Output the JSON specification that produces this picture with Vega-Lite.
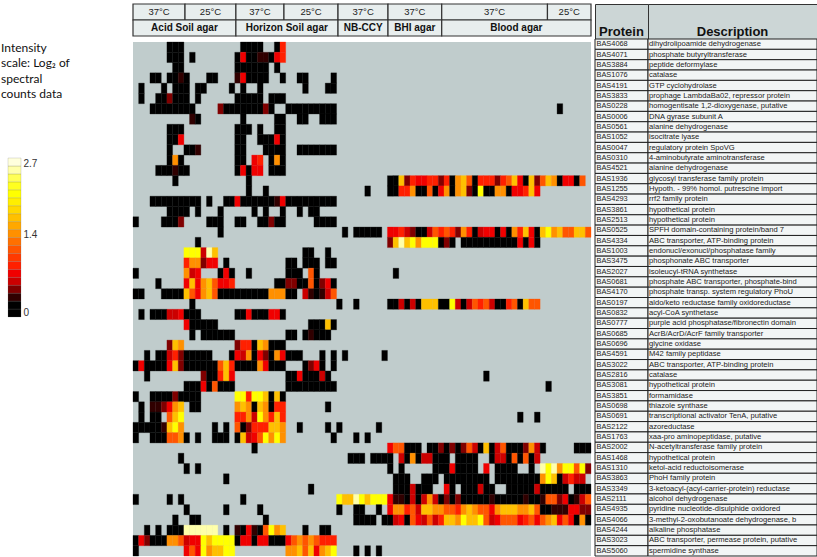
{"$schema":"https://vega.github.io/schema/vega-lite/v6.json","padding":{"left":0,"top":3,"right":0,"bottom":0},"background":"white","spacing":2,"config":{"view":{"stroke":null},"text":{"font":"Liberation Sans"}},
"datasets":{
"notes":[{"t":"Intensity"},{"t":"scale: Log₂ of"},{"t":"spectral"},{"t":"counts data"}],
"ramp":[{"lo":0,"hi":0.135,"v":0.07},{"lo":0.135,"hi":0.27,"v":0.2},{"lo":0.27,"hi":0.405,"v":0.34},{"lo":0.405,"hi":0.54,"v":0.47},{"lo":0.54,"hi":0.675,"v":0.61},{"lo":0.675,"hi":0.81,"v":0.74},{"lo":0.81,"hi":0.945,"v":0.88},{"lo":0.945,"hi":1.08,"v":1.01},{"lo":1.08,"hi":1.215,"v":1.15},{"lo":1.215,"hi":1.35,"v":1.28},{"lo":1.35,"hi":1.485,"v":1.42},{"lo":1.485,"hi":1.62,"v":1.55},{"lo":1.62,"hi":1.755,"v":1.69},{"lo":1.755,"hi":1.89,"v":1.82},{"lo":1.89,"hi":2.025,"v":1.96},{"lo":2.025,"hi":2.16,"v":2.09},{"lo":2.16,"hi":2.295,"v":2.23},{"lo":2.295,"hi":2.43,"v":2.36},{"lo":2.43,"hi":2.565,"v":2.5},{"lo":2.565,"hi":2.7,"v":2.63}],
"head":[{"tier":"temp","a":0,"b":9.2,"mid":4.6,"t":"37°C"},{"tier":"temp","a":9.2,"b":18.2,"mid":13.7,"t":"25°C"},{"tier":"temp","a":18.2,"b":26.7,"mid":22.45,"t":"37°C"},{"tier":"temp","a":26.7,"b":36.26,"mid":31.5,"t":"25°C"},{"tier":"temp","a":36.26,"b":45.1,"mid":40.7,"t":"37°C"},{"tier":"temp","a":45.1,"b":54.6,"mid":49.85,"t":"37°C"},{"tier":"temp","a":54.6,"b":73.3,"mid":63.95,"t":"37°C"},{"tier":"temp","a":73.3,"b":81,"mid":77.15,"t":"25°C"},{"tier":"medium","a":0,"b":18.2,"mid":9.1,"t":"Acid Soil agar"},{"tier":"medium","a":18.2,"b":36.26,"mid":27.2,"t":"Horizon Soil agar"},{"tier":"medium","a":36.26,"b":45.1,"mid":40.7,"t":"NB-CCY"},{"tier":"medium","a":45.1,"b":54.6,"mid":49.85,"t":"BHI agar"},{"tier":"medium","a":54.6,"b":81,"mid":67.8,"t":"Blood agar"}],
"table":[{"p":"BAS4068","d":"dihydrolipoamide dehydrogenase"},{"p":"BAS4071","d":"phosphate butyryltransferase"},{"p":"BAS3884","d":"peptide deformylase"},{"p":"BAS1076","d":"catalase"},{"p":"BAS4191","d":"GTP cyclohydrolase"},{"p":"BAS3833","d":"prophage LambdaBa02, repressor protein"},{"p":"BAS0228","d":"homogentisate 1,2-dioxygenase, putative"},{"p":"BAS0006","d":"DNA gyrase subunit A"},{"p":"BAS0561","d":"alanine dehydrogenase"},{"p":"BAS1052","d":"isocitrate lyase"},{"p":"BAS0047","d":"regulatory protein SpoVG"},{"p":"BAS0310","d":"4-aminobutyrate aminotransferase"},{"p":"BAS4521","d":"alanine dehydrogenase"},{"p":"BAS1936","d":"glycosyl transferase family protein"},{"p":"BAS1255","d":"Hypoth. - 99% homol. putrescine import"},{"p":"BAS4293","d":"rrf2 family protein"},{"p":"BAS3861","d":"hypothetical protein"},{"p":"BAS2513","d":"hypothetical protein"},{"p":"BAS0525","d":"SPFH domain-containing protein/band 7"},{"p":"BAS4334","d":"ABC transporter, ATP-binding protein"},{"p":"BAS1003","d":"endonucl/exonucl/phosphatase family"},{"p":"BAS3475","d":"phosphonate ABC transporter"},{"p":"BAS2027","d":"isoleucyl-tRNA synthetase"},{"p":"BAS0681","d":"phosphate ABC transporter, phosphate-bind"},{"p":"BAS4170","d":"phosphate transp. system regulatory PhoU"},{"p":"BAS0197","d":"aldo/keto reductase family oxidoreductase"},{"p":"BAS0832","d":"acyl-CoA synthetase"},{"p":"BAS0777","d":"purple acid phosphatase/fibronectin domain"},{"p":"BAS0685","d":"AcrB/AcrD/AcrF family transporter"},{"p":"BAS0696","d":"glycine oxidase"},{"p":"BAS4591","d":"M42 family peptidase"},{"p":"BAS3022","d":"ABC transporter, ATP-binding protein"},{"p":"BAS2816","d":"catalase"},{"p":"BAS3081","d":"hypothetical protein"},{"p":"BAS3851","d":"formamidase"},{"p":"BAS0698","d":"thiazole synthase"},{"p":"BAS0691","d":"transcriptional activator TenA, putative"},{"p":"BAS2122","d":"azoreductase"},{"p":"BAS1763","d":"xaa-pro aminopeptidase, putative"},{"p":"BAS2002","d":"N-acetyltransferase family protein"},{"p":"BAS1468","d":"hypothetical protein"},{"p":"BAS1310","d":"ketol-acid reductoisomerase"},{"p":"BAS3863","d":"PhoH family protein"},{"p":"BAS3349","d":"3-ketoacyl-(acyl-carrier-protein) reductase"},{"p":"BAS2111","d":"alcohol dehydrogenase"},{"p":"BAS4935","d":"pyridine nucleotide-disulphide oxidored"},{"p":"BAS4066","d":"3-methyl-2-oxobutanoate dehydrogenase, b"},{"p":"BAS4244","d":"alkaline phosphatase"},{"p":"BAS3023","d":"ABC transporter, permease protein, putative"},{"p":"BAS5060","d":"spermidine synthase"}],
"cells":[
{"r":0,"c":6,"v":0},{"r":0,"c":7,"v":0},{"r":0,"c":8,"v":0},{"r":0,"c":19,"v":0},{"r":0,"c":20,"v":0},{"r":0,"c":21,"v":0},{"r":0,"c":22,"v":0},{"r":0,"c":25,"v":0},{"r":0,"c":26,"v":0.9},
{"r":1,"c":6,"v":0},{"r":1,"c":7,"v":0},{"r":1,"c":8,"v":0},{"r":1,"c":10,"v":0},{"r":1,"c":18,"v":0},{"r":1,"c":19,"v":0.75},{"r":1,"c":20,"v":0},{"r":1,"c":21,"v":0},{"r":1,"c":22,"v":0.3},{"r":1,"c":23,"v":0.3},{"r":1,"c":24,"v":0},{"r":1,"c":25,"v":0.75},{"r":1,"c":26,"v":0.9},
{"r":2,"c":7,"v":0},{"r":2,"c":8,"v":0},{"r":2,"c":18,"v":0},{"r":2,"c":19,"v":0},{"r":2,"c":20,"v":0},{"r":2,"c":21,"v":0},{"r":2,"c":22,"v":0},{"r":2,"c":23,"v":0},{"r":2,"c":25,"v":0},
{"r":3,"c":3,"v":0},{"r":3,"c":4,"v":0},{"r":3,"c":6,"v":0},{"r":3,"c":7,"v":0},{"r":3,"c":8,"v":0.3},{"r":3,"c":9,"v":0},{"r":3,"c":13,"v":0},{"r":3,"c":14,"v":0},{"r":3,"c":18,"v":0.3},{"r":3,"c":19,"v":0.75},{"r":3,"c":20,"v":0},{"r":3,"c":21,"v":0},{"r":3,"c":22,"v":0},{"r":3,"c":23,"v":0},{"r":3,"c":26,"v":0},{"r":3,"c":29,"v":0},{"r":3,"c":30,"v":0},{"r":3,"c":35,"v":0},
{"r":4,"c":1,"v":0},{"r":4,"c":5,"v":0},{"r":4,"c":7,"v":0},{"r":4,"c":8,"v":0},{"r":4,"c":9,"v":0},{"r":4,"c":11,"v":0},{"r":4,"c":12,"v":0},{"r":4,"c":17,"v":0},{"r":4,"c":19,"v":0},{"r":4,"c":22,"v":0},{"r":4,"c":30,"v":0},{"r":4,"c":34,"v":0},{"r":4,"c":35,"v":0},
{"r":5,"c":1,"v":0},{"r":5,"c":4,"v":0},{"r":5,"c":5,"v":0},{"r":5,"c":6,"v":0.45},{"r":5,"c":7,"v":0},{"r":5,"c":8,"v":0},{"r":5,"c":9,"v":0},{"r":5,"c":11,"v":0},{"r":5,"c":18,"v":0},{"r":5,"c":19,"v":0},{"r":5,"c":20,"v":0},{"r":5,"c":21,"v":0},{"r":5,"c":22,"v":0},{"r":5,"c":24,"v":0},{"r":5,"c":25,"v":0},{"r":5,"c":26,"v":0},
{"r":6,"c":3,"v":0},{"r":6,"c":4,"v":0},{"r":6,"c":5,"v":0},{"r":6,"c":6,"v":0},{"r":6,"c":7,"v":0},{"r":6,"c":8,"v":0},{"r":6,"c":9,"v":0},{"r":6,"c":10,"v":0},{"r":6,"c":15,"v":0.45},{"r":6,"c":16,"v":0},{"r":6,"c":17,"v":0},{"r":6,"c":18,"v":0},{"r":6,"c":19,"v":0},{"r":6,"c":20,"v":0},{"r":6,"c":21,"v":0},{"r":6,"c":22,"v":0},{"r":6,"c":23,"v":0.45},{"r":6,"c":24,"v":0},{"r":6,"c":27,"v":0},{"r":6,"c":28,"v":0},{"r":6,"c":29,"v":0},{"r":6,"c":30,"v":0},{"r":6,"c":31,"v":0},{"r":6,"c":32,"v":0},{"r":6,"c":33,"v":0},{"r":6,"c":34,"v":0},{"r":6,"c":35,"v":0},{"r":6,"c":75,"v":0},
{"r":7,"c":10,"v":0.3},{"r":7,"c":11,"v":0},{"r":7,"c":19,"v":0},{"r":7,"c":25,"v":0},{"r":7,"c":26,"v":0},{"r":7,"c":29,"v":0},{"r":7,"c":30,"v":0},{"r":7,"c":33,"v":0},{"r":7,"c":34,"v":0},{"r":7,"c":35,"v":0},
{"r":8,"c":6,"v":0},{"r":8,"c":7,"v":0},{"r":8,"c":8,"v":0},{"r":8,"c":18,"v":0},{"r":8,"c":19,"v":0},{"r":8,"c":20,"v":0},{"r":8,"c":22,"v":0},{"r":8,"c":25,"v":0},{"r":8,"c":26,"v":0},
{"r":9,"c":6,"v":0},{"r":9,"c":7,"v":0},{"r":9,"c":8,"v":0.75},{"r":9,"c":18,"v":0},{"r":9,"c":19,"v":0},{"r":9,"c":22,"v":0},{"r":9,"c":23,"v":0},{"r":9,"c":24,"v":0},{"r":9,"c":25,"v":0.75},{"r":9,"c":26,"v":0},
{"r":10,"c":6,"v":0},{"r":10,"c":9,"v":0},{"r":10,"c":10,"v":0},{"r":10,"c":11,"v":0.3},{"r":10,"c":18,"v":0},{"r":10,"c":19,"v":0},{"r":10,"c":23,"v":0},{"r":10,"c":24,"v":0},{"r":10,"c":25,"v":0},{"r":10,"c":26,"v":0},{"r":10,"c":29,"v":0},{"r":10,"c":30,"v":0},{"r":10,"c":31,"v":0},{"r":10,"c":32,"v":0},{"r":10,"c":33,"v":0},{"r":10,"c":34,"v":0},{"r":10,"c":35,"v":0},
{"r":11,"c":6,"v":0},{"r":11,"c":7,"v":1.4},{"r":11,"c":8,"v":0},{"r":11,"c":18,"v":0},{"r":11,"c":19,"v":0},{"r":11,"c":21,"v":0.75},{"r":11,"c":22,"v":0.9},{"r":11,"c":24,"v":0},{"r":11,"c":25,"v":1.4},{"r":11,"c":26,"v":0},
{"r":12,"c":4,"v":0},{"r":12,"c":5,"v":0},{"r":12,"c":6,"v":0},{"r":12,"c":7,"v":0.3},{"r":12,"c":8,"v":0},{"r":12,"c":9,"v":0},{"r":12,"c":18,"v":0},{"r":12,"c":19,"v":0.75},{"r":12,"c":20,"v":0},{"r":12,"c":21,"v":0.75},{"r":12,"c":22,"v":0.75},{"r":12,"c":24,"v":0},{"r":12,"c":25,"v":0},{"r":12,"c":26,"v":0},
{"r":13,"c":7,"v":0},{"r":13,"c":20,"v":0},{"r":13,"c":45,"v":0},{"r":13,"c":46,"v":0},{"r":13,"c":47,"v":1.7},{"r":13,"c":48,"v":0.45},{"r":13,"c":49,"v":0.9},{"r":13,"c":50,"v":0.75},{"r":13,"c":51,"v":0.75},{"r":13,"c":52,"v":0.9},{"r":13,"c":53,"v":0.9},{"r":13,"c":54,"v":0.45},{"r":13,"c":55,"v":0.9},{"r":13,"c":56,"v":0},{"r":13,"c":57,"v":1.4},{"r":13,"c":58,"v":1.7},{"r":13,"c":59,"v":1.15},{"r":13,"c":60,"v":0},{"r":13,"c":61,"v":0.9},{"r":13,"c":62,"v":0.9},{"r":13,"c":63,"v":0.9},{"r":13,"c":64,"v":0.45},{"r":13,"c":65,"v":0.9},{"r":13,"c":66,"v":1.15},{"r":13,"c":67,"v":1.7},{"r":13,"c":68,"v":0.75},{"r":13,"c":69,"v":0},{"r":13,"c":70,"v":1.7},{"r":13,"c":71,"v":0.45},{"r":13,"c":72,"v":1.15},{"r":13,"c":73,"v":1.7},{"r":13,"c":74,"v":1.4},{"r":13,"c":75,"v":0},{"r":13,"c":76,"v":0.75},{"r":13,"c":77,"v":0.75},{"r":13,"c":78,"v":0},{"r":13,"c":79,"v":1.15},
{"r":14,"c":20,"v":0},{"r":14,"c":23,"v":0},{"r":14,"c":41,"v":0},{"r":14,"c":45,"v":0},{"r":14,"c":46,"v":0},{"r":14,"c":47,"v":0.9},{"r":14,"c":48,"v":0.9},{"r":14,"c":49,"v":1.4},{"r":14,"c":50,"v":0},{"r":14,"c":51,"v":0},{"r":14,"c":52,"v":1.15},{"r":14,"c":53,"v":0},{"r":14,"c":54,"v":0.75},{"r":14,"c":55,"v":1.4},{"r":14,"c":56,"v":0},{"r":14,"c":57,"v":1.4},{"r":14,"c":58,"v":1.7},{"r":14,"c":59,"v":0.45},{"r":14,"c":60,"v":0},{"r":14,"c":61,"v":2.05},{"r":14,"c":62,"v":0},{"r":14,"c":63,"v":0},{"r":14,"c":64,"v":1.4},{"r":14,"c":65,"v":1.4},{"r":14,"c":66,"v":0},{"r":14,"c":67,"v":0.75},{"r":14,"c":68,"v":0.75},{"r":14,"c":69,"v":0.9},{"r":14,"c":70,"v":1.7},{"r":14,"c":71,"v":0.75},
{"r":15,"c":3,"v":0},{"r":15,"c":4,"v":0},{"r":15,"c":5,"v":0},{"r":15,"c":6,"v":0},{"r":15,"c":7,"v":0},{"r":15,"c":8,"v":0},{"r":15,"c":9,"v":0},{"r":15,"c":10,"v":0},{"r":15,"c":11,"v":0},{"r":15,"c":13,"v":0},{"r":15,"c":16,"v":0},{"r":15,"c":17,"v":0},{"r":15,"c":18,"v":0.75},{"r":15,"c":19,"v":0},{"r":15,"c":20,"v":0},{"r":15,"c":21,"v":0},{"r":15,"c":22,"v":0},{"r":15,"c":23,"v":0},{"r":15,"c":24,"v":0},{"r":15,"c":25,"v":0.3},{"r":15,"c":26,"v":0.75},{"r":15,"c":27,"v":0},{"r":15,"c":28,"v":0},{"r":15,"c":29,"v":0},{"r":15,"c":30,"v":0},{"r":15,"c":31,"v":0},{"r":15,"c":32,"v":0},{"r":15,"c":33,"v":0},{"r":15,"c":34,"v":0},{"r":15,"c":35,"v":0},
{"r":16,"c":6,"v":0},{"r":16,"c":7,"v":0},{"r":16,"c":8,"v":0},{"r":16,"c":9,"v":0},{"r":16,"c":11,"v":0},{"r":16,"c":15,"v":0},{"r":16,"c":21,"v":0},{"r":16,"c":23,"v":0},{"r":16,"c":26,"v":0},{"r":16,"c":29,"v":0},{"r":16,"c":31,"v":0},{"r":16,"c":32,"v":0},
{"r":17,"c":0,"v":0},{"r":17,"c":5,"v":0},{"r":17,"c":6,"v":0},{"r":17,"c":7,"v":0},{"r":17,"c":8,"v":0.45},{"r":17,"c":13,"v":0},{"r":17,"c":14,"v":0},{"r":17,"c":15,"v":0},{"r":17,"c":18,"v":0},{"r":17,"c":19,"v":0},{"r":17,"c":22,"v":0},{"r":17,"c":23,"v":0},{"r":17,"c":24,"v":0.45},{"r":17,"c":25,"v":0},{"r":17,"c":26,"v":0},{"r":17,"c":32,"v":0},{"r":17,"c":33,"v":0},{"r":17,"c":34,"v":0},{"r":17,"c":35,"v":0},
{"r":18,"c":15,"v":0},{"r":18,"c":37,"v":0},{"r":18,"c":39,"v":0},{"r":18,"c":40,"v":0},{"r":18,"c":41,"v":0},{"r":18,"c":42,"v":0},{"r":18,"c":43,"v":0},{"r":18,"c":45,"v":0.75},{"r":18,"c":46,"v":0.75},{"r":18,"c":47,"v":0.9},{"r":18,"c":48,"v":0.6},{"r":18,"c":49,"v":0.45},{"r":18,"c":50,"v":0},{"r":18,"c":51,"v":0},{"r":18,"c":52,"v":0.6},{"r":18,"c":53,"v":1.15},{"r":18,"c":54,"v":0.9},{"r":18,"c":55,"v":1.15},{"r":18,"c":56,"v":0.9},{"r":18,"c":57,"v":0.45},{"r":18,"c":58,"v":1.4},{"r":18,"c":59,"v":0.9},{"r":18,"c":60,"v":0},{"r":18,"c":61,"v":0.6},{"r":18,"c":62,"v":0.75},{"r":18,"c":63,"v":0.75},{"r":18,"c":64,"v":0},{"r":18,"c":65,"v":0.75},{"r":18,"c":66,"v":0},{"r":18,"c":67,"v":1.4},{"r":18,"c":68,"v":0.9},{"r":18,"c":69,"v":1.7},{"r":18,"c":70,"v":0.75},{"r":18,"c":71,"v":0},{"r":18,"c":72,"v":1.7},{"r":18,"c":73,"v":2.05},{"r":18,"c":74,"v":1.4},{"r":18,"c":75,"v":1.7},{"r":18,"c":76,"v":1.15},{"r":18,"c":77,"v":1.15},{"r":18,"c":78,"v":1.7},{"r":18,"c":79,"v":1.7},{"r":18,"c":80,"v":1.15},
{"r":19,"c":11,"v":0},{"r":19,"c":45,"v":0.45},{"r":19,"c":46,"v":1.7},{"r":19,"c":47,"v":2.5},{"r":19,"c":48,"v":1.7},{"r":19,"c":49,"v":2.05},{"r":19,"c":50,"v":1.4},{"r":19,"c":51,"v":2.05},{"r":19,"c":52,"v":2.05},{"r":19,"c":53,"v":2.05},{"r":19,"c":54,"v":0},{"r":19,"c":55,"v":0.45},{"r":19,"c":56,"v":0},{"r":19,"c":58,"v":0},{"r":19,"c":59,"v":0},{"r":19,"c":60,"v":0},{"r":19,"c":61,"v":0},{"r":19,"c":62,"v":0},{"r":19,"c":63,"v":0},{"r":19,"c":64,"v":0},{"r":19,"c":65,"v":0},{"r":19,"c":66,"v":0},{"r":19,"c":67,"v":0},{"r":19,"c":68,"v":0.75},{"r":19,"c":69,"v":0},{"r":19,"c":70,"v":0.75},{"r":19,"c":71,"v":0},
{"r":20,"c":9,"v":2.05},{"r":20,"c":10,"v":2.05},{"r":20,"c":11,"v":2.05},{"r":20,"c":12,"v":0.6},{"r":20,"c":13,"v":2.5},{"r":20,"c":14,"v":1.7},{"r":20,"c":30,"v":0},{"r":20,"c":31,"v":0},{"r":20,"c":34,"v":0},
{"r":21,"c":9,"v":0.9},{"r":21,"c":10,"v":1.4},{"r":21,"c":11,"v":1.4},{"r":21,"c":12,"v":0.45},{"r":21,"c":13,"v":0.75},{"r":21,"c":14,"v":0.75},{"r":21,"c":16,"v":0},{"r":21,"c":27,"v":0},{"r":21,"c":28,"v":0},{"r":21,"c":30,"v":0},{"r":21,"c":31,"v":0},{"r":21,"c":32,"v":0},{"r":21,"c":34,"v":0},{"r":21,"c":35,"v":0},
{"r":22,"c":0,"v":0},{"r":22,"c":9,"v":1.4},{"r":22,"c":10,"v":0.6},{"r":22,"c":11,"v":0.75},{"r":22,"c":15,"v":0},{"r":22,"c":16,"v":0.75},{"r":22,"c":17,"v":0},{"r":22,"c":20,"v":0},{"r":22,"c":27,"v":0},{"r":22,"c":28,"v":0},{"r":22,"c":29,"v":0},{"r":22,"c":31,"v":1.15},{"r":22,"c":32,"v":0},{"r":22,"c":46,"v":0},
{"r":23,"c":4,"v":0},{"r":23,"c":9,"v":0.75},{"r":23,"c":10,"v":1.7},{"r":23,"c":11,"v":0.75},{"r":23,"c":12,"v":1.4},{"r":23,"c":13,"v":1.7},{"r":23,"c":14,"v":1.15},{"r":23,"c":15,"v":0.75},{"r":23,"c":16,"v":0.75},{"r":23,"c":17,"v":0.9},{"r":23,"c":25,"v":0},{"r":23,"c":26,"v":0},{"r":23,"c":27,"v":0.45},{"r":23,"c":28,"v":0.45},{"r":23,"c":29,"v":0},{"r":23,"c":30,"v":0},{"r":23,"c":31,"v":1.15},{"r":23,"c":32,"v":0},{"r":23,"c":33,"v":0.45},{"r":23,"c":34,"v":0.75},{"r":23,"c":35,"v":0},
{"r":24,"c":0,"v":0},{"r":24,"c":1,"v":0},{"r":24,"c":5,"v":0},{"r":24,"c":6,"v":0},{"r":24,"c":7,"v":0},{"r":24,"c":8,"v":0},{"r":24,"c":9,"v":1.7},{"r":24,"c":10,"v":1.15},{"r":24,"c":11,"v":0.75},{"r":24,"c":12,"v":1.4},{"r":24,"c":13,"v":1.7},{"r":24,"c":14,"v":1.15},{"r":24,"c":15,"v":0},{"r":24,"c":16,"v":0},{"r":24,"c":17,"v":0},{"r":24,"c":18,"v":0},{"r":24,"c":19,"v":0},{"r":24,"c":20,"v":0},{"r":24,"c":21,"v":0},{"r":24,"c":22,"v":0},{"r":24,"c":23,"v":0},{"r":24,"c":24,"v":1.4},{"r":24,"c":25,"v":1.4},{"r":24,"c":26,"v":1.4},{"r":24,"c":27,"v":0},{"r":24,"c":28,"v":0},{"r":24,"c":30,"v":0.6},{"r":24,"c":31,"v":0.3},{"r":24,"c":32,"v":0},{"r":24,"c":33,"v":0.3},{"r":24,"c":34,"v":0.6},{"r":24,"c":35,"v":1.15},
{"r":25,"c":10,"v":0},{"r":25,"c":36,"v":0},{"r":25,"c":39,"v":0},{"r":25,"c":45,"v":0},{"r":25,"c":46,"v":0},{"r":25,"c":47,"v":0.6},{"r":25,"c":48,"v":0},{"r":25,"c":49,"v":0.6},{"r":25,"c":50,"v":0},{"r":25,"c":51,"v":1.7},{"r":25,"c":52,"v":1.7},{"r":25,"c":53,"v":1.7},{"r":25,"c":54,"v":0},{"r":25,"c":55,"v":0},{"r":25,"c":56,"v":2.05},{"r":25,"c":57,"v":0.6},{"r":25,"c":58,"v":0},{"r":25,"c":59,"v":0.6},{"r":25,"c":60,"v":1.15},{"r":25,"c":61,"v":0.9},{"r":25,"c":62,"v":1.15},{"r":25,"c":63,"v":0.6},{"r":25,"c":64,"v":0},{"r":25,"c":65,"v":0},{"r":25,"c":66,"v":0.9},{"r":25,"c":67,"v":1.15},{"r":25,"c":68,"v":0},{"r":25,"c":69,"v":1.7},{"r":25,"c":70,"v":1.15},{"r":25,"c":71,"v":1.15},
{"r":26,"c":1,"v":0},{"r":26,"c":3,"v":0},{"r":26,"c":4,"v":0},{"r":26,"c":5,"v":0},{"r":26,"c":6,"v":0.6},{"r":26,"c":7,"v":0.6},{"r":26,"c":8,"v":0.75},{"r":26,"c":9,"v":0},{"r":26,"c":10,"v":0},{"r":26,"c":11,"v":0},{"r":26,"c":18,"v":0},{"r":26,"c":19,"v":0},{"r":26,"c":20,"v":0.75},{"r":26,"c":21,"v":0},{"r":26,"c":22,"v":0},{"r":26,"c":23,"v":0},{"r":26,"c":24,"v":0.75},{"r":26,"c":25,"v":0.75},{"r":26,"c":26,"v":0},
{"r":27,"c":9,"v":0.75},{"r":27,"c":10,"v":0},{"r":27,"c":11,"v":0},{"r":27,"c":12,"v":0},{"r":27,"c":13,"v":0},{"r":27,"c":14,"v":0},{"r":27,"c":31,"v":0},{"r":27,"c":32,"v":0},{"r":27,"c":33,"v":0},{"r":27,"c":34,"v":1.7},{"r":27,"c":35,"v":0},
{"r":28,"c":10,"v":0},{"r":28,"c":12,"v":0},{"r":28,"c":13,"v":0},{"r":28,"c":14,"v":0},{"r":28,"c":15,"v":0},{"r":28,"c":16,"v":0},{"r":28,"c":17,"v":0},{"r":28,"c":27,"v":0},{"r":28,"c":28,"v":0},{"r":28,"c":30,"v":0},{"r":28,"c":31,"v":0.3},{"r":28,"c":32,"v":0},{"r":28,"c":33,"v":0},{"r":28,"c":34,"v":0},
{"r":29,"c":6,"v":0.45},{"r":29,"c":7,"v":1.7},{"r":29,"c":8,"v":1.4},{"r":29,"c":18,"v":0.45},{"r":29,"c":19,"v":0.9},{"r":29,"c":20,"v":0.9},{"r":29,"c":21,"v":0},{"r":29,"c":22,"v":1.7},{"r":29,"c":23,"v":1.4},{"r":29,"c":24,"v":0},{"r":29,"c":25,"v":0},{"r":29,"c":26,"v":0},
{"r":30,"c":2,"v":0},{"r":30,"c":4,"v":0},{"r":30,"c":5,"v":0},{"r":30,"c":6,"v":0.6},{"r":30,"c":7,"v":0.9},{"r":30,"c":8,"v":0.45},{"r":30,"c":9,"v":0},{"r":30,"c":10,"v":0},{"r":30,"c":11,"v":0},{"r":30,"c":12,"v":0},{"r":30,"c":13,"v":0},{"r":30,"c":17,"v":0},{"r":30,"c":18,"v":0.75},{"r":30,"c":19,"v":0.6},{"r":30,"c":20,"v":1.4},{"r":30,"c":21,"v":0},{"r":30,"c":22,"v":0.75},{"r":30,"c":23,"v":0.45},{"r":30,"c":24,"v":0},{"r":30,"c":25,"v":1.4},{"r":30,"c":26,"v":0.75},{"r":30,"c":27,"v":0},{"r":30,"c":28,"v":0},{"r":30,"c":29,"v":0},{"r":30,"c":33,"v":0},{"r":30,"c":35,"v":0},{"r":30,"c":37,"v":0},{"r":30,"c":44,"v":0},
{"r":31,"c":0,"v":0},{"r":31,"c":1,"v":0.75},{"r":31,"c":2,"v":0},{"r":31,"c":3,"v":0},{"r":31,"c":4,"v":0},{"r":31,"c":5,"v":0},{"r":31,"c":6,"v":0.75},{"r":31,"c":7,"v":1.7},{"r":31,"c":8,"v":0.45},{"r":31,"c":9,"v":0},{"r":31,"c":10,"v":0},{"r":31,"c":11,"v":0},{"r":31,"c":12,"v":0},{"r":31,"c":13,"v":0},{"r":31,"c":14,"v":0},{"r":31,"c":15,"v":1.15},{"r":31,"c":16,"v":1.7},{"r":31,"c":17,"v":0.9},{"r":31,"c":18,"v":0},{"r":31,"c":19,"v":0},{"r":31,"c":20,"v":0},{"r":31,"c":21,"v":0},{"r":31,"c":22,"v":1.4},{"r":31,"c":23,"v":0.75},{"r":31,"c":24,"v":0},{"r":31,"c":25,"v":0},{"r":31,"c":26,"v":0},{"r":31,"c":30,"v":0},{"r":31,"c":31,"v":0.45},{"r":31,"c":32,"v":0.75},{"r":31,"c":33,"v":0},{"r":31,"c":35,"v":0},
{"r":32,"c":2,"v":0},{"r":32,"c":12,"v":0.45},{"r":32,"c":13,"v":0},{"r":32,"c":14,"v":0},{"r":32,"c":15,"v":0.9},{"r":32,"c":16,"v":1.7},{"r":32,"c":17,"v":0.75},{"r":32,"c":27,"v":0},{"r":32,"c":28,"v":0},{"r":32,"c":29,"v":0.75},{"r":32,"c":30,"v":0},{"r":32,"c":31,"v":0},{"r":32,"c":32,"v":0},{"r":32,"c":33,"v":0.6},{"r":32,"c":34,"v":0},{"r":32,"c":62,"v":0},
{"r":33,"c":9,"v":0},{"r":33,"c":10,"v":0},{"r":33,"c":11,"v":0},{"r":33,"c":12,"v":0.75},{"r":33,"c":13,"v":0},{"r":33,"c":14,"v":1.15},{"r":33,"c":15,"v":0},{"r":33,"c":16,"v":0},{"r":33,"c":17,"v":0},{"r":33,"c":27,"v":0},{"r":33,"c":28,"v":0},{"r":33,"c":29,"v":0},{"r":33,"c":30,"v":0},{"r":33,"c":31,"v":0},{"r":33,"c":32,"v":0},{"r":33,"c":33,"v":0},{"r":33,"c":34,"v":0},{"r":33,"c":35,"v":0},{"r":33,"c":73,"v":0},
{"r":34,"c":0,"v":0},{"r":34,"c":3,"v":0},{"r":34,"c":4,"v":0},{"r":34,"c":5,"v":0},{"r":34,"c":6,"v":0},{"r":34,"c":7,"v":0.45},{"r":34,"c":8,"v":0},{"r":34,"c":9,"v":0},{"r":34,"c":10,"v":0},{"r":34,"c":11,"v":0},{"r":34,"c":18,"v":2.05},{"r":34,"c":19,"v":2.05},{"r":34,"c":20,"v":0.9},{"r":34,"c":21,"v":2.05},{"r":34,"c":22,"v":2.05},{"r":34,"c":23,"v":1.7},{"r":34,"c":24,"v":0},{"r":34,"c":25,"v":1.7},{"r":34,"c":26,"v":0},
{"r":35,"c":1,"v":0},{"r":35,"c":3,"v":0.3},{"r":35,"c":4,"v":0.3},{"r":35,"c":5,"v":0.45},{"r":35,"c":6,"v":0.75},{"r":35,"c":7,"v":1.4},{"r":35,"c":8,"v":1.7},{"r":35,"c":10,"v":0},{"r":35,"c":11,"v":0},{"r":35,"c":18,"v":1.4},{"r":35,"c":19,"v":1.7},{"r":35,"c":20,"v":1.4},{"r":35,"c":21,"v":0},{"r":35,"c":22,"v":1.7},{"r":35,"c":23,"v":1.4},{"r":35,"c":24,"v":0},{"r":35,"c":25,"v":0.9},{"r":35,"c":26,"v":0.9},{"r":35,"c":34,"v":0},
{"r":36,"c":1,"v":0},{"r":36,"c":3,"v":0},{"r":36,"c":4,"v":0},{"r":36,"c":6,"v":1.15},{"r":36,"c":7,"v":1.7},{"r":36,"c":8,"v":2.05},{"r":36,"c":18,"v":0.9},{"r":36,"c":19,"v":0.9},{"r":36,"c":20,"v":1.4},{"r":36,"c":21,"v":0.6},{"r":36,"c":22,"v":2.05},{"r":36,"c":23,"v":1.4},{"r":36,"c":24,"v":0.9},{"r":36,"c":25,"v":1.7},{"r":36,"c":26,"v":0.9},{"r":36,"c":68,"v":0},{"r":36,"c":71,"v":0},
{"r":37,"c":0,"v":0},{"r":37,"c":1,"v":0},{"r":37,"c":2,"v":0},{"r":37,"c":3,"v":0},{"r":37,"c":4,"v":0},{"r":37,"c":5,"v":0.3},{"r":37,"c":6,"v":1.7},{"r":37,"c":7,"v":2.05},{"r":37,"c":8,"v":1.4},{"r":37,"c":14,"v":0},{"r":37,"c":16,"v":0},{"r":37,"c":18,"v":1.15},{"r":37,"c":19,"v":0},{"r":37,"c":20,"v":0.45},{"r":37,"c":21,"v":0.9},{"r":37,"c":22,"v":0.9},{"r":37,"c":23,"v":0.9},{"r":37,"c":24,"v":1.7},{"r":37,"c":25,"v":1.7},{"r":37,"c":26,"v":1.4},{"r":37,"c":29,"v":0},{"r":37,"c":34,"v":0},{"r":37,"c":36,"v":0},{"r":37,"c":43,"v":0},
{"r":38,"c":0,"v":0},{"r":38,"c":3,"v":0},{"r":38,"c":4,"v":0},{"r":38,"c":5,"v":0},{"r":38,"c":6,"v":1.15},{"r":38,"c":7,"v":1.15},{"r":38,"c":8,"v":1.4},{"r":38,"c":9,"v":0},{"r":38,"c":11,"v":0},{"r":38,"c":14,"v":0},{"r":38,"c":15,"v":0},{"r":38,"c":16,"v":0},{"r":38,"c":18,"v":0},{"r":38,"c":19,"v":1.7},{"r":38,"c":20,"v":0.6},{"r":38,"c":21,"v":0.75},{"r":38,"c":22,"v":1.15},{"r":38,"c":23,"v":2.05},{"r":38,"c":24,"v":1.4},{"r":38,"c":25,"v":2.05},{"r":38,"c":26,"v":1.4},{"r":38,"c":35,"v":0},{"r":38,"c":39,"v":0},{"r":38,"c":41,"v":0},
{"r":39,"c":21,"v":0},{"r":39,"c":45,"v":0.75},{"r":39,"c":46,"v":1.15},{"r":39,"c":47,"v":1.15},{"r":39,"c":48,"v":0},{"r":39,"c":49,"v":0},{"r":39,"c":50,"v":0},{"r":39,"c":52,"v":0},{"r":39,"c":53,"v":0},{"r":39,"c":54,"v":0.45},{"r":39,"c":55,"v":0},{"r":39,"c":56,"v":0.45},{"r":39,"c":57,"v":0},{"r":39,"c":58,"v":0.45},{"r":39,"c":59,"v":1.15},{"r":39,"c":60,"v":0.6},{"r":39,"c":61,"v":0},{"r":39,"c":62,"v":1.7},{"r":39,"c":63,"v":0},{"r":39,"c":64,"v":0.6},{"r":39,"c":65,"v":1.15},{"r":39,"c":66,"v":0},{"r":39,"c":67,"v":0},{"r":39,"c":68,"v":0},{"r":39,"c":69,"v":0.45},{"r":39,"c":70,"v":1.4},{"r":39,"c":71,"v":0.6},{"r":39,"c":72,"v":0},{"r":39,"c":78,"v":0},{"r":39,"c":79,"v":0},{"r":39,"c":80,"v":0},
{"r":40,"c":8,"v":0},{"r":40,"c":38,"v":0},{"r":40,"c":39,"v":0},{"r":40,"c":40,"v":0},{"r":40,"c":42,"v":0},{"r":40,"c":43,"v":0},{"r":40,"c":44,"v":0},{"r":40,"c":45,"v":0},{"r":40,"c":47,"v":0.6},{"r":40,"c":48,"v":0},{"r":40,"c":49,"v":1.4},{"r":40,"c":50,"v":0},{"r":40,"c":51,"v":0.6},{"r":40,"c":52,"v":0.6},{"r":40,"c":53,"v":0},{"r":40,"c":54,"v":0},{"r":40,"c":55,"v":0},{"r":40,"c":57,"v":0},{"r":40,"c":58,"v":0},{"r":40,"c":59,"v":0},{"r":40,"c":60,"v":0},{"r":40,"c":63,"v":0},{"r":40,"c":64,"v":0.6},{"r":40,"c":65,"v":0.6},{"r":40,"c":66,"v":0},{"r":40,"c":67,"v":1.15},{"r":40,"c":68,"v":0},{"r":40,"c":69,"v":1.15},{"r":40,"c":70,"v":0},{"r":40,"c":71,"v":0.6},
{"r":41,"c":9,"v":0},{"r":41,"c":11,"v":0},{"r":41,"c":45,"v":0},{"r":41,"c":47,"v":0},{"r":41,"c":53,"v":0},{"r":41,"c":54,"v":0},{"r":41,"c":55,"v":0},{"r":41,"c":56,"v":0.75},{"r":41,"c":57,"v":0},{"r":41,"c":58,"v":0},{"r":41,"c":59,"v":0},{"r":41,"c":60,"v":0},{"r":41,"c":62,"v":0.75},{"r":41,"c":64,"v":0},{"r":41,"c":65,"v":0},{"r":41,"c":66,"v":0},{"r":41,"c":67,"v":0},{"r":41,"c":70,"v":0},{"r":41,"c":72,"v":2.5},{"r":41,"c":73,"v":2.05},{"r":41,"c":74,"v":2.5},{"r":41,"c":75,"v":1.4},{"r":41,"c":76,"v":2.05},{"r":41,"c":77,"v":2.05},{"r":41,"c":78,"v":1.15},{"r":41,"c":79,"v":2.05},{"r":41,"c":80,"v":0.45},
{"r":42,"c":16,"v":0},{"r":42,"c":46,"v":0},{"r":42,"c":47,"v":0},{"r":42,"c":48,"v":0},{"r":42,"c":51,"v":0},{"r":42,"c":52,"v":0},{"r":42,"c":53,"v":0},{"r":42,"c":55,"v":0},{"r":42,"c":56,"v":0},{"r":42,"c":57,"v":0},{"r":42,"c":58,"v":0},{"r":42,"c":59,"v":0},{"r":42,"c":60,"v":0},{"r":42,"c":61,"v":0},{"r":42,"c":62,"v":0},{"r":42,"c":64,"v":0},{"r":42,"c":65,"v":0},{"r":42,"c":66,"v":0},{"r":42,"c":67,"v":0},{"r":42,"c":68,"v":0},{"r":42,"c":69,"v":0},{"r":42,"c":70,"v":0},{"r":42,"c":71,"v":0},{"r":42,"c":72,"v":1.4},{"r":42,"c":73,"v":2.05},{"r":42,"c":74,"v":1.7},{"r":42,"c":75,"v":0},{"r":42,"c":76,"v":0.6},{"r":42,"c":77,"v":0.9},{"r":42,"c":78,"v":0.6},{"r":42,"c":79,"v":0.6},
{"r":43,"c":31,"v":0},{"r":43,"c":46,"v":0},{"r":43,"c":47,"v":0},{"r":43,"c":48,"v":0},{"r":43,"c":49,"v":0.6},{"r":43,"c":50,"v":0},{"r":43,"c":51,"v":0},{"r":43,"c":52,"v":0},{"r":43,"c":55,"v":0.75},{"r":43,"c":56,"v":0},{"r":43,"c":58,"v":0},{"r":43,"c":59,"v":0},{"r":43,"c":60,"v":0},{"r":43,"c":61,"v":0.6},{"r":43,"c":62,"v":0},{"r":43,"c":63,"v":0},{"r":43,"c":66,"v":0},{"r":43,"c":67,"v":0},{"r":43,"c":68,"v":0},{"r":43,"c":69,"v":0},{"r":43,"c":70,"v":0},{"r":43,"c":71,"v":0.6},{"r":43,"c":72,"v":0},{"r":43,"c":73,"v":0},{"r":43,"c":74,"v":0},{"r":43,"c":75,"v":0},{"r":43,"c":76,"v":0},{"r":43,"c":78,"v":0},{"r":43,"c":79,"v":0},{"r":43,"c":80,"v":0},
{"r":44,"c":0,"v":0},{"r":44,"c":6,"v":0},{"r":44,"c":8,"v":0},{"r":44,"c":19,"v":0},{"r":44,"c":36,"v":2.05},{"r":44,"c":37,"v":1.7},{"r":44,"c":38,"v":1.7},{"r":44,"c":39,"v":2.5},{"r":44,"c":40,"v":2.05},{"r":44,"c":41,"v":1.7},{"r":44,"c":42,"v":2.05},{"r":44,"c":43,"v":2.05},{"r":44,"c":44,"v":2.05},{"r":44,"c":45,"v":0.75},{"r":44,"c":46,"v":0.3},{"r":44,"c":47,"v":0.3},{"r":44,"c":48,"v":0},{"r":44,"c":49,"v":0.6},{"r":44,"c":50,"v":0},{"r":44,"c":51,"v":0.6},{"r":44,"c":52,"v":1.4},{"r":44,"c":53,"v":0.6},{"r":44,"c":54,"v":0},{"r":44,"c":55,"v":0.45},{"r":44,"c":56,"v":0},{"r":44,"c":57,"v":0.45},{"r":44,"c":58,"v":0},{"r":44,"c":59,"v":0},{"r":44,"c":60,"v":0},{"r":44,"c":61,"v":0},{"r":44,"c":62,"v":0},{"r":44,"c":63,"v":0.3},{"r":44,"c":64,"v":0},{"r":44,"c":65,"v":0},{"r":44,"c":66,"v":0},{"r":44,"c":67,"v":0},{"r":44,"c":68,"v":0},{"r":44,"c":69,"v":0.3},{"r":44,"c":70,"v":0},{"r":44,"c":71,"v":0},{"r":44,"c":72,"v":0.3},{"r":44,"c":73,"v":1.15},{"r":44,"c":74,"v":1.15},{"r":44,"c":75,"v":0.45},{"r":44,"c":76,"v":0.75},{"r":44,"c":77,"v":0},{"r":44,"c":78,"v":0.3},{"r":44,"c":79,"v":0.6},{"r":44,"c":80,"v":1.15},
{"r":45,"c":9,"v":0},{"r":45,"c":16,"v":0},{"r":45,"c":22,"v":0},{"r":45,"c":36,"v":0},{"r":45,"c":39,"v":0},{"r":45,"c":40,"v":0},{"r":45,"c":43,"v":0},{"r":45,"c":45,"v":0.75},{"r":45,"c":46,"v":1.4},{"r":45,"c":47,"v":1.4},{"r":45,"c":48,"v":0.9},{"r":45,"c":49,"v":1.15},{"r":45,"c":50,"v":0.6},{"r":45,"c":51,"v":1.7},{"r":45,"c":52,"v":1.7},{"r":45,"c":53,"v":1.4},{"r":45,"c":54,"v":1.4},{"r":45,"c":55,"v":1.15},{"r":45,"c":56,"v":1.15},{"r":45,"c":57,"v":0.9},{"r":45,"c":58,"v":1.4},{"r":45,"c":59,"v":1.7},{"r":45,"c":60,"v":1.4},{"r":45,"c":61,"v":1.15},{"r":45,"c":62,"v":1.15},{"r":45,"c":63,"v":0.75},{"r":45,"c":64,"v":1.4},{"r":45,"c":65,"v":1.7},{"r":45,"c":66,"v":1.7},{"r":45,"c":67,"v":1.7},{"r":45,"c":68,"v":1.4},{"r":45,"c":69,"v":1.4},{"r":45,"c":70,"v":1.7},{"r":45,"c":71,"v":1.15},{"r":45,"c":72,"v":0},{"r":45,"c":73,"v":0},{"r":45,"c":74,"v":0.3},{"r":45,"c":75,"v":0.3},{"r":45,"c":76,"v":0.3},{"r":45,"c":77,"v":0.75},{"r":45,"c":78,"v":0.75},{"r":45,"c":79,"v":0.45},{"r":45,"c":80,"v":0.45},
{"r":46,"c":7,"v":0},{"r":46,"c":10,"v":0},{"r":46,"c":11,"v":0},{"r":46,"c":23,"v":0},{"r":46,"c":39,"v":0},{"r":46,"c":40,"v":0},{"r":46,"c":41,"v":0},{"r":46,"c":42,"v":0},{"r":46,"c":44,"v":0},{"r":46,"c":45,"v":0},{"r":46,"c":46,"v":0.6},{"r":46,"c":47,"v":0.75},{"r":46,"c":48,"v":0},{"r":46,"c":49,"v":1.15},{"r":46,"c":50,"v":0.75},{"r":46,"c":51,"v":0.6},{"r":46,"c":52,"v":1.15},{"r":46,"c":53,"v":0.6},{"r":46,"c":54,"v":0.9},{"r":46,"c":55,"v":1.7},{"r":46,"c":56,"v":1.7},{"r":46,"c":57,"v":1.4},{"r":46,"c":58,"v":2.05},{"r":46,"c":59,"v":1.7},{"r":46,"c":60,"v":1.7},{"r":46,"c":61,"v":2.05},{"r":46,"c":62,"v":1.15},{"r":46,"c":63,"v":0.6},{"r":46,"c":64,"v":0.75},{"r":46,"c":65,"v":1.15},{"r":46,"c":66,"v":1.15},{"r":46,"c":67,"v":1.15},{"r":46,"c":68,"v":0.75},{"r":46,"c":69,"v":0.9},{"r":46,"c":70,"v":1.15},{"r":46,"c":71,"v":0.75},{"r":46,"c":72,"v":1.15},{"r":46,"c":73,"v":1.4},{"r":46,"c":74,"v":1.7},{"r":46,"c":75,"v":0.75},{"r":46,"c":76,"v":1.15},{"r":46,"c":77,"v":0.75},{"r":46,"c":78,"v":0},{"r":46,"c":79,"v":1.4},{"r":46,"c":80,"v":0},
{"r":47,"c":2,"v":0},{"r":47,"c":4,"v":0},{"r":47,"c":6,"v":0},{"r":47,"c":7,"v":0},{"r":47,"c":8,"v":0},{"r":47,"c":9,"v":2.5},{"r":47,"c":10,"v":2.5},{"r":47,"c":11,"v":2.5},{"r":47,"c":12,"v":2.5},{"r":47,"c":13,"v":2.5},{"r":47,"c":14,"v":2.5},{"r":47,"c":16,"v":0},{"r":47,"c":18,"v":0.3},{"r":47,"c":19,"v":0},{"r":47,"c":20,"v":0.75},{"r":47,"c":21,"v":0.3},{"r":47,"c":22,"v":0},{"r":47,"c":23,"v":1.15},{"r":47,"c":24,"v":2.05},{"r":47,"c":25,"v":1.4},{"r":47,"c":26,"v":1.7},{"r":47,"c":30,"v":0},{"r":47,"c":33,"v":0},{"r":47,"c":34,"v":0},
{"r":48,"c":0,"v":0},{"r":48,"c":1,"v":0.75},{"r":48,"c":2,"v":0.45},{"r":48,"c":3,"v":0},{"r":48,"c":4,"v":0},{"r":48,"c":5,"v":0},{"r":48,"c":6,"v":1.4},{"r":48,"c":7,"v":1.4},{"r":48,"c":8,"v":1.15},{"r":48,"c":9,"v":0.6},{"r":48,"c":10,"v":0.75},{"r":48,"c":11,"v":0.75},{"r":48,"c":12,"v":2.05},{"r":48,"c":13,"v":1.7},{"r":48,"c":14,"v":2.05},{"r":48,"c":15,"v":2.05},{"r":48,"c":16,"v":2.05},{"r":48,"c":17,"v":2.05},{"r":48,"c":18,"v":0},{"r":48,"c":19,"v":0.75},{"r":48,"c":20,"v":0.75},{"r":48,"c":21,"v":0},{"r":48,"c":22,"v":0.75},{"r":48,"c":23,"v":0.75},{"r":48,"c":24,"v":0},{"r":48,"c":25,"v":0},{"r":48,"c":26,"v":0},{"r":48,"c":27,"v":0.75},{"r":48,"c":28,"v":1.15},{"r":48,"c":29,"v":1.4},{"r":48,"c":30,"v":1.15},{"r":48,"c":31,"v":1.4},{"r":48,"c":32,"v":1.15},{"r":48,"c":33,"v":0.9},{"r":48,"c":34,"v":0.9},{"r":48,"c":35,"v":0.9},
{"r":49,"c":0,"v":0},{"r":49,"c":9,"v":0.75},{"r":49,"c":10,"v":1.15},{"r":49,"c":11,"v":0.75},{"r":49,"c":12,"v":2.05},{"r":49,"c":13,"v":1.4},{"r":49,"c":14,"v":1.7},{"r":49,"c":15,"v":1.7},{"r":49,"c":16,"v":2.05},{"r":49,"c":17,"v":2.05},{"r":49,"c":27,"v":1.4},{"r":49,"c":28,"v":1.4},{"r":49,"c":29,"v":1.7},{"r":49,"c":30,"v":1.15},{"r":49,"c":31,"v":1.7},{"r":49,"c":32,"v":0.75},{"r":49,"c":33,"v":1.4},{"r":49,"c":34,"v":1.7},{"r":49,"c":35,"v":2.05},{"r":49,"c":39,"v":0},{"r":49,"c":41,"v":0},{"r":49,"c":43,"v":0}
]},
"hconcat":[
{"bounds":"flush","spacing":4,"vconcat":[
{"width":130,"height":150,"data":{"name":"notes"},"mark":{"type":"text","align":"left","font":"Lato","fontSize":12,"color":"#111","dx":1},"encoding":{"x":{"datum":0,"type":"quantitative","scale":{"domain":[0,1]},"axis":null},"y":{"field":"t","type":"nominal","sort":null,"axis":null,"scale":{"type":"point","padding":0,"range":[44,90]}},"text":{"field":"t"}}},
{"width":130,"height":159,"data":{"name":"ramp"},"mark":{"type":"rect","stroke":"#666","strokeWidth":0.2},"encoding":{
"x":{"datum":0,"type":"quantitative","scale":{"domain":[-8,122]},"axis":null},"x2":{"datum":13},
"y":{"field":"lo","type":"quantitative","scale":{"domain":[0,2.7]},"axis":{"orient":"right","offset":-108,"values":[0,1.4,2.7],"format":".1~f","domain":false,"ticks":false,"grid":false,"title":null,"labelFlush":true,"labelPadding":1,"labelFont":"Liberation Sans","labelFontSize":10,"labelColor":"#333"}},"y2":{"field":"hi"},
"color":{"field":"v","type":"quantitative","legend":null,"scale":{"type":"quantize","domain":[0,2.7],"range":["#000000","#000000","#300000","#800000","#cc0000","#f00000","#ff2000","#ff3a00","#ff5500","#ff7000","#ff9000","#ffa800","#ffc000","#ffd800","#ffee00","#ffff00","#ffff20","#ffff55","#ffffaa","#ffffdd"]}}
}}
]},
{"bounds":"flush","spacing":6,"vconcat":[
{"width":458,"height":32,"data":{"name":"head"},"layer":[
{"mark":{"type":"rect","fill":"#e8eeee","stroke":"#333","strokeWidth":1.2},"encoding":{"x":{"field":"a","type":"quantitative","scale":{"domain":[0,81]},"axis":null},"x2":{"field":"b"},"y":{"field":"tier","type":"nominal","scale":{"domain":["temp","medium"]},"axis":null}}},
{"mark":{"type":"text","fontSize":9.5,"color":"#222"},"transform":[{"filter":"datum.tier=='temp'"}],"encoding":{"x":{"field":"mid","type":"quantitative","scale":{"domain":[0,81]},"axis":null},"y":{"field":"tier","type":"nominal","scale":{"domain":["temp","medium"]},"axis":null},"text":{"field":"t"}}},
{"mark":{"type":"text","fontSize":10,"fontWeight":"bold","color":"#111"},"transform":[{"filter":"datum.tier=='medium'"}],"encoding":{"x":{"field":"mid","type":"quantitative","scale":{"domain":[0,81]},"axis":null},"y":{"field":"tier","type":"nominal","scale":{"domain":["temp","medium"]},"axis":null},"text":{"field":"t"}}}
]},
{"width":458,"height":514,"view":{"fill":"#c0cccc","stroke":null},"data":{"name":"cells"},"mark":{"type":"rect","strokeWidth":0.3},"encoding":{
"x":{"field":"c","type":"ordinal","axis":null,"scale":{"paddingInner":0,"paddingOuter":0,"domain":[0,1,2,3,4,5,6,7,8,9,10,11,12,13,14,15,16,17,18,19,20,21,22,23,24,25,26,27,28,29,30,31,32,33,34,35,36,37,38,39,40,41,42,43,44,45,46,47,48,49,50,51,52,53,54,55,56,57,58,59,60,61,62,63,64,65,66,67,68,69,70,71,72,73,74,75,76,77,78,79,80]}},
"y":{"field":"r","type":"ordinal","axis":null,"scale":{"paddingInner":0,"paddingOuter":0,"domain":[0,1,2,3,4,5,6,7,8,9,10,11,12,13,14,15,16,17,18,19,20,21,22,23,24,25,26,27,28,29,30,31,32,33,34,35,36,37,38,39,40,41,42,43,44,45,46,47,48,49]}},
"color":{"field":"v","type":"quantitative","legend":null,"scale":{"type":"quantize","domain":[0,2.7],"range":["#000000","#000000","#300000","#800000","#cc0000","#f00000","#ff2000","#ff3a00","#ff5500","#ff7000","#ff9000","#ffa800","#ffc000","#ffd800","#ffee00","#ffff00","#ffff20","#ffff55","#ffffaa","#ffffdd"]}},
"stroke":{"field":"v","type":"quantitative","legend":null,"scale":{"type":"quantize","domain":[0,2.7],"range":["#000000","#000000","#300000","#800000","#cc0000","#f00000","#ff2000","#ff3a00","#ff5500","#ff7000","#ff9000","#ffa800","#ffc000","#ffd800","#ffee00","#ffff00","#ffff20","#ffff55","#ffffaa","#ffffdd"]}}
}}
]},
{"bounds":"flush","spacing":0,"columns":2,"align":"each","concat":[
{"width":53,"height":35,"view":{"fill":"#ccd6d6","stroke":"#333","strokeWidth":1},"data":{"values":[{"h":"Protein"}]},"mark":{"type":"text","fontSize":13,"fontWeight":"bold","color":"#111","baseline":"alphabetic","dy":-3},"encoding":{"y":{"datum":0,"type":"quantitative","scale":{"domain":[0,1],"range":[35,0]},"axis":null},"text":{"field":"h"}}},
{"width":169,"height":35,"view":{"fill":"#ccd6d6","stroke":"#333","strokeWidth":1},"data":{"values":[{"h":"Description"}]},"mark":{"type":"text","fontSize":13,"fontWeight":"bold","color":"#111","baseline":"alphabetic","dy":-3},"encoding":{"y":{"datum":0,"type":"quantitative","scale":{"domain":[0,1],"range":[35,0]},"axis":null},"text":{"field":"h"}}},
{"width":53,"height":517,"data":{"name":"table"},"layer":[
{"mark":{"type":"rect","fill":"#f2f5f5","stroke":"#222","strokeWidth":1},"encoding":{"y":{"field":"p","type":"nominal","sort":null,"axis":null,"scale":{"paddingInner":0,"paddingOuter":0}}}},
{"mark":{"type":"text","align":"left","dx":1.5,"fontSize":7.4,"color":"#222"},"encoding":{"x":{"datum":0,"type":"quantitative","scale":{"domain":[0,1]},"axis":null},"y":{"field":"p","type":"nominal","sort":null,"axis":null,"scale":{"paddingInner":0,"paddingOuter":0}},"text":{"field":"p"}}}
]},
{"width":169,"height":517,"data":{"name":"table"},"layer":[
{"mark":{"type":"rect","fill":"#f2f5f5","stroke":"#222","strokeWidth":1},"encoding":{"y":{"field":"p","type":"nominal","sort":null,"axis":null,"scale":{"paddingInner":0,"paddingOuter":0}}}},
{"mark":{"type":"text","align":"left","dx":1,"fontSize":7.6,"color":"#222"},"encoding":{"x":{"datum":0,"type":"quantitative","scale":{"domain":[0,1]},"axis":null},"y":{"field":"p","type":"nominal","sort":null,"axis":null,"scale":{"paddingInner":0,"paddingOuter":0}},"text":{"field":"d"}}}
]}
]}
]}
